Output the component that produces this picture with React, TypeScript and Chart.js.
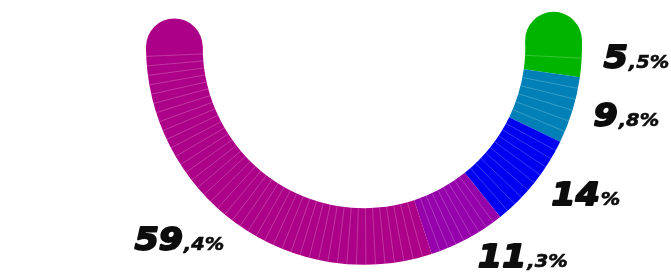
import React, { useEffect, useRef } from 'react';
import { Chart, registerables } from 'chart.js';

Chart.register(...registerables);

const categories = ['Segment 1', 'Segment 2', 'Segment 3', 'Segment 4', 'Segment 5'];
const values = [5.5, 9.8, 14, 11.3, 59.4];
const colors = ['#00b400', '#0080b6', '#0000f0', '#9500aa', '#ad0088'];
const sliceCounts = [2, 6, 10, 9, 43];

const W = 671;
const H = 279;

function splitLabel(v: number): [string, string] {
  const s = String(v).replace('.', ',');
  const i = s.indexOf(',');
  if (i < 0) return [s, '%'];
  return [s.slice(0, i), s.slice(i) + '%'];
}

const gaugePlugin = {
  id: 'gaugeDecor',
  afterDatasetsDraw(chart: any) {
    const ctx: CanvasRenderingContext2D = chart.ctx;
    const arcs = chart.getDatasetMeta(0).data;
    const props = arcs.map((a: any) =>
      a.getProps(['x', 'y', 'startAngle', 'endAngle', 'innerRadius', 'outerRadius'], true)
    );
    ctx.save();
    // round caps
    const first = props[0];
    const last = props[props.length - 1];
    const capEnds: [any, number, string][] = [
      [first, first.startAngle, colors[0]],
      [last, last.endAngle, colors[colors.length - 1]],
    ];
    capEnds.forEach(([p, a, c]) => {
      const midR = (p.innerRadius + p.outerRadius) / 2;
      const capR = (p.outerRadius - p.innerRadius) / 2;
      ctx.beginPath();
      ctx.arc(p.x + midR * Math.cos(a), p.y + midR * Math.sin(a), capR, 0, Math.PI * 2);
      ctx.fillStyle = c;
      ctx.fill();
    });
    // slice texture lines
    ctx.strokeStyle = 'rgba(255,255,255,0.22)';
    ctx.lineWidth = 1;
    props.forEach((p: any, i: number) => {
      const n = sliceCounts[i];
      const span = (p.endAngle - p.startAngle) / n;
      for (let k = 1; k < n; k++) {
        const a = p.startAngle + span * k;
        ctx.beginPath();
        ctx.moveTo(p.x + p.innerRadius * Math.cos(a), p.y + p.innerRadius * Math.sin(a));
        ctx.lineTo(p.x + p.outerRadius * Math.cos(a), p.y + p.outerRadius * Math.sin(a));
        ctx.stroke();
      }
    });
    // labels
    const sx = 1.08;
    const bigFont = 'italic 700 32px "DejaVu Sans"';
    const smallFont = 'italic 700 18px "DejaVu Sans"';
    ctx.fillStyle = '#0d0d0d';
    ctx.strokeStyle = '#0d0d0d';
    ctx.lineJoin = 'round';
    ctx.textBaseline = 'alphabetic';
    ctx.textAlign = 'left';
    props.forEach((p: any, i: number) => {
      const [big, small] = splitLabel(values[i]);
      const mid = (p.startAngle + p.endAngle) / 2;
      const r = p.outerRadius + 22;
      const ax = p.x + r * Math.cos(mid);
      const ay = p.y + r * Math.sin(mid);
      ctx.font = bigFont;
      const wb = ctx.measureText(big).width;
      ctx.font = smallFont;
      const ws = ctx.measureText(small).width;
      const total = (wb + ws) * sx;
      const left = Math.cos(mid) >= 0 ? ax : ax - total;
      const baseline = ay + 9;
      ctx.save();
      ctx.translate(left, baseline);
      ctx.scale(sx, 1);
      ctx.font = bigFont;
      ctx.lineWidth = 2;
      ctx.fillText(big, 0, 0);
      ctx.strokeText(big, 0, 0);
      ctx.font = smallFont;
      ctx.lineWidth = 0.6;
      ctx.fillText(small, wb + 1, 0);
      ctx.strokeText(small, wb + 1, 0);
      ctx.restore();
    });
    ctx.restore();
  },
};

export default function App() {
  const ref = useRef<HTMLCanvasElement | null>(null);
  useEffect(() => {
    if (!ref.current) return;
    const chart = new Chart(ref.current, {
      type: 'doughnut',
      data: {
        labels: categories,
        datasets: [
          {
            data: values,
            backgroundColor: colors,
            borderWidth: 0,
            hoverOffset: 0,
          },
        ],
      },
      options: {
        animation: false,
        responsive: false,
        devicePixelRatio: 1,
        rotation: 88,
        circumference: 182,
        cutout: '74%',
        layout: { padding: { left: 146, right: 89, top: 39, bottom: 14 } },
        plugins: {
          legend: { display: false },
          tooltip: { enabled: false },
        },
      },
      plugins: [gaugePlugin],
    });
    return () => chart.destroy();
  }, []);
  return (
    <div style={{ position: 'fixed', left: 0, top: 0, width: W, height: H, background: '#fff' }}>
      <canvas ref={ref} width={W} height={H} style={{ display: 'block' }} />
    </div>
  );
}
